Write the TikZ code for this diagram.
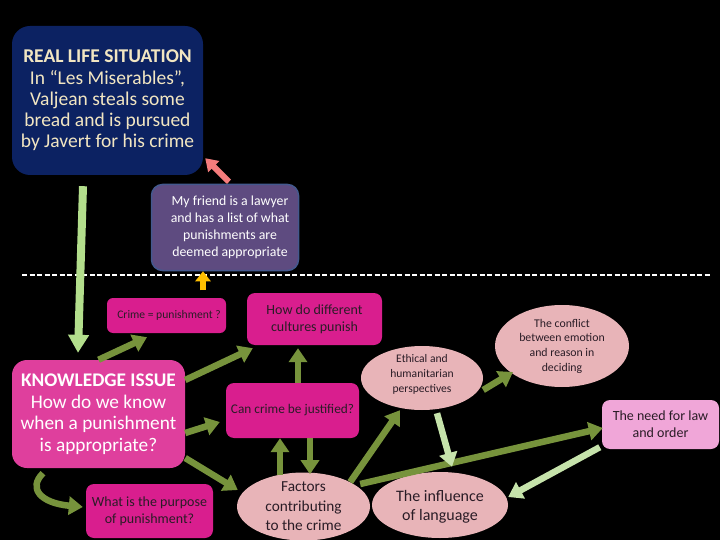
\documentclass[tikz,border=0pt]{standalone}
\usepackage{fontspec}
\setmainfont{Carlito}
\usetikzlibrary{arrows.meta,shapes.geometric}
\definecolor{navy}{HTML}{0C2262}
\definecolor{cream}{HTML}{F2E6C2}
\definecolor{lawfill}{HTML}{5E4B80}
\definecolor{lawdraw}{HTML}{44598E}
\definecolor{kifill}{HTML}{DF3F9D}
\definecolor{magbox}{HTML}{D91E8E}
\definecolor{darktxt}{HTML}{2A1C26}
\definecolor{ellfill}{HTML}{E8B4B8}
\definecolor{needfill}{HTML}{F0A6D8}
\definecolor{olive}{HTML}{77933C}
\definecolor{lgreenA}{HTML}{B3DE8C}
\definecolor{lgreenB}{HTML}{C6E3AB}
\definecolor{pinkarr}{HTML}{F47C7C}
\definecolor{yellarr}{HTML}{FFC000}
\tikzset{
  boxnode/.style={rectangle, draw=none, inner sep=0pt, align=center},
  ellnode/.style={ellipse, fill=ellfill, draw=none, inner sep=0pt},
  txt/.style={align=center, inner sep=0pt, text=darktxt},
  olivearr/.style={draw=olive, line width=6.5pt, -{Triangle[width=18pt,length=14pt]}},
  lgarr/.style={draw=lgreenB, line width=6.5pt, -{Triangle[width=18pt,length=14pt]}},
}
\begin{document}
\begin{tikzpicture}[x=1pt,y=-1pt]
\fill[black] (0,0) rectangle (720,540);
\useasboundingbox (0,0) rectangle (720,540);

% dashed line
\coordinate (dl) at (22,275);
\coordinate (dr) at (710,275);
\draw[white, line width=1.1pt, dash pattern=on 5pt off 2.5pt] (dl) -- (dr);

% boxes
\node[boxnode, fill=navy, rounded corners=18pt, minimum width=191pt, minimum height=149pt,
      text=cream, font=\fontsize{19.5}{21.3}\selectfont] (real) at (107.5,100.5)
  {\textbf{REAL LIFE SITUATION}\\In “Les Miserables”,\\Valjean steals some\\bread and is pursued\\by Javert for his crime};

\node[boxnode, fill=lawfill, draw=lawdraw, line width=1.5pt, rounded corners=11pt,
      minimum width=147pt, minimum height=86pt, text=white,
      font=\fontsize{13.8}{17}\selectfont] (law) at (225,227.5)
  {\hspace*{10pt}My friend is a lawyer\\\hspace*{10pt}and has a list of what\\\hspace*{10pt}punishments are\\\hspace*{10pt}deemed appropriate};

\node[boxnode, fill=kifill, rounded corners=15pt, minimum width=173pt, minimum height=108pt,
      text=white, font=\fontsize{19.3}{21.5}\selectfont] (ki) at (98.5,414)
  {\textbf{KNOWLEDGE ISSUE}\\How do we know\\when a punishment\\is appropriate?};

\node[boxnode, fill=magbox, rounded corners=6pt, minimum width=119pt, minimum height=35pt,
      text=darktxt, font=\fontsize{11.6}{14}\selectfont] (crime) at (166.5,315.5)
  {\hspace*{5pt}Crime = punishment ?};

\node[boxnode, fill=magbox, rounded corners=8pt, minimum width=135pt, minimum height=52pt,
      text=darktxt, font=\fontsize{14}{17}\selectfont] (howdiff) at (314.5,319)
  {How do different\\cultures punish};

\node[boxnode, fill=magbox, rounded corners=8pt, minimum width=133pt, minimum height=55pt,
      text=darktxt, font=\fontsize{13.3}{17}\selectfont] (cancrime) at (292.5,410.5)
  {Can crime be justified?};

\node[boxnode, fill=magbox, rounded corners=8pt, minimum width=127pt, minimum height=54pt,
      text=darktxt, font=\fontsize{14}{17}\selectfont] (purpose) at (149.5,511)
  {What is the purpose\\of punishment?};

\node[boxnode, fill=needfill, rounded corners=8pt, minimum width=117pt, minimum height=49pt,
      text=darktxt, font=\fontsize{14}{17}\selectfont] (need) at (660.5,424.5)
  {The need for law\\and order};

% ellipses
\node[ellnode, minimum width=133pt, minimum height=68pt] (fac) at (303.5,506.5) {};
\node[txt, font=\fontsize{15.3}{19.5}\selectfont] (factxt) at (fac) {Factors\\contributing\\to the crime};

\node[ellnode, minimum width=136pt, minimum height=66pt] (infl) at (440,505) {};
\node[txt, font=\fontsize{16}{19}\selectfont] (infltxt) at ([yshift=-2pt]infl.center) {The influence\\of language};

\node[ellnode, minimum width=122pt, minimum height=64pt] (eth) at (422,378) {};
\node[txt, font=\fontsize{11.6}{15}\selectfont] (ethtxt) at ([yshift=4pt]eth.center) {Ethical and\\humanitarian\\perspectives};

\node[ellnode, minimum width=134pt, minimum height=82pt] (conf) at (562,346) {};
\node[txt, font=\fontsize{11.8}{14.7}\selectfont] (conftxt) at (conf) {The conflict\\between emotion\\and reason in\\deciding};

% arrows
\draw[draw=pinkarr, line width=6pt, -{Triangle[width=15pt,length=12pt]}]
  ([shift={(4,-2)}]law.north) -- ([shift={(2,-17)}]real.south east);
\draw[draw=yellarr, line width=6pt, -{Triangle[width=15pt,length=10pt]}]
  ([shift={(-22,19)}]law.south) -- ([shift={(-22,0)}]law.south);
\draw[draw=lgreenA, line width=8pt, -{Triangle[width=20pt,length=18pt]}]
  ([shift={(-24.5,11)}]real.south) -- ([shift={(-20.5,-7)}]ki.north);

\draw[olivearr] (ki.north) -- ([shift={(-19.5,4)}]crime.south);
\draw[olivearr] ([yshift=34pt]ki.east) -- ([shift={(6,3)}]howdiff.south west);
\draw[olivearr] ([yshift=-19pt]ki.east) -- ([shift={(-6,11.5)}]cancrime.west);
\draw[olivearr] ([yshift=-44pt]ki.east) -- ([shift={(1,-16.5)}]fac.west);
\draw[olivearr] ([shift={(-55.5,5)}]ki.south) .. controls (28,488) and (40,503) .. ([shift={(-3,-4)}]purpose.west);

\draw[olivearr] ([shift={(-12.5,37)}]cancrime.south) -- ([xshift=-12.5pt]cancrime.south);
\draw[olivearr] ([xshift=17.5pt]cancrime.south) -- ([shift={(17.5,36)}]cancrime.south);
\draw[olivearr] ([xshift=5.5pt]cancrime.north) -- ([shift={(-16.5,3)}]howdiff.south);

\draw[olivearr] ([shift={(-20,-24.5)}]fac.east) -- ([shift={(-22,0)}]eth.south);
\draw[olivearr] ([shift={(-10,-22.5)}]fac.east) -- ([shift={(1,3.5)}]need.west);
\draw[olivearr] ([shift={(0,12)}]eth.east) -- ([shift={(-49,26)}]conf.center);

\draw[lgarr] ([shift={(15,3)}]eth.south) -- ([shift={(12,-5)}]infl.north);
\draw[lgarr] ([shift={(-2,-2)}]need.south west) -- ([shift={(0,-8)}]infl.east);
\end{tikzpicture}
\end{document}
